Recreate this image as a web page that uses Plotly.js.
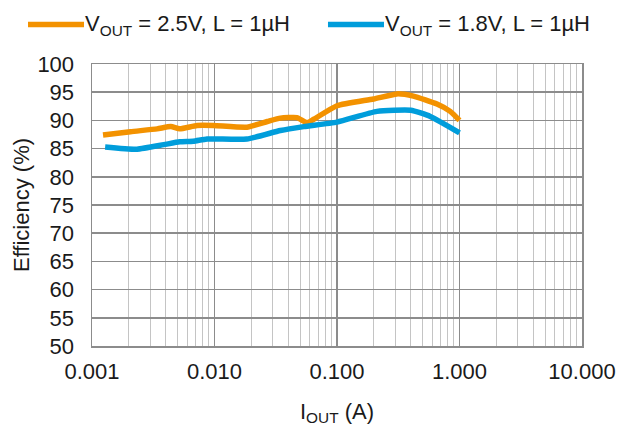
<!DOCTYPE html>
<html>
<head>
<meta charset="utf-8">
<script src="https://cdn.plot.ly/plotly-3.0.1.min.js"></script>
<style>
  html, body { margin: 0; padding: 0; background: #fff; }
  #chart { width: 625px; height: 428px; }
</style>
</head>
<body>
<div id="chart"></div>
<script>
// Output current (A) and efficiency (%) for each output voltage
const iout25 = [0.00123, 0.00206, 0.0034, 0.0044, 0.0052, 0.0072, 0.0098, 0.0184, 0.027, 0.0345, 0.047, 0.057, 0.0646, 0.1, 0.199, 0.309, 0.42, 0.655, 0.84, 1.0];
const eff25  = [87.4, 88.0, 88.5, 88.9, 88.5, 89.1, 89.1, 88.8, 89.8, 90.4, 90.5, 89.6, 90.2, 92.6, 93.8, 94.7, 94.3, 92.9, 91.6, 90.0];

const iout18 = [0.00128, 0.00233, 0.00385, 0.0052, 0.0067, 0.0087, 0.0184, 0.0345, 0.0535, 0.1, 0.212, 0.40, 0.578, 1.0];
const eff18  = [85.3, 84.9, 85.7, 86.2, 86.3, 86.7, 86.7, 88.2, 88.9, 89.7, 91.6, 91.8, 90.7, 87.8];

const seriesNames = ['V<sub>OUT</sub> = 2.5V, L = 1µH', 'V<sub>OUT</sub> = 1.8V, L = 1µH'];
const seriesColors = ['#F39200', '#009DDB'];

const xTickVals = [0.001, 0.01, 0.1, 1, 10];
const xTickText = ['0.001', '0.010', '0.100', '1.000', '10.000'];

// minor grid positions: 2..9 within each decade
const minorVals = [];
for (let d = -3; d < 1; d++) {
  for (let k = 2; k <= 9; k++) minorVals.push(k * Math.pow(10, d));
}

const font = { family: 'Liberation Sans, Arial, sans-serif', size: 22, color: '#1a1a1a' };
const majorGrid = '#8c8c8c';
const minorGrid = '#c4c4c4';

const traces = [
  { x: iout25, y: eff25, name: seriesNames[0], mode: 'lines',
    line: { color: seriesColors[0], width: 5.5, shape: 'spline', smoothing: 0.5 } },
  { x: iout18, y: eff18, name: seriesNames[1], mode: 'lines',
    line: { color: seriesColors[1], width: 5.5, shape: 'spline', smoothing: 0.5 } }
];

// Legend row above the plot: a short coloured bar followed by its label
const legendY = 1.14;
const legendKeys = [[-0.1306, -0.0163], [0.4816, 0.5959]];
const shapes = legendKeys.map((k, i) => ({
  type: 'line', xref: 'paper', yref: 'paper',
  x0: k[0], x1: k[1], y0: legendY, y1: legendY,
  line: { color: seriesColors[i], width: 5.5 }
}));
const annotations = legendKeys.map((k, i) => ({
  xref: 'paper', yref: 'paper', x: k[1] + 0.002, y: legendY,
  xanchor: 'left', yanchor: 'middle', showarrow: false,
  text: seriesNames[i], font: font, borderpad: 0, borderwidth: 0
}));

const layout = {
  width: 625, height: 428,
  margin: { l: 92, r: 43, t: 64, b: 82 },
  paper_bgcolor: '#fff', plot_bgcolor: '#fff',
  font: font,
  showlegend: false,
  shapes: shapes,
  annotations: annotations,
  xaxis: {
    type: 'log', range: [-3, 1],
    tickvals: xTickVals, ticktext: xTickText,
    showgrid: true, gridcolor: majorGrid, gridwidth: 1.5,
    minor: { tickvals: minorVals, showgrid: true, gridcolor: minorGrid, gridwidth: 1, ticklen: 0 },
    showline: true, linecolor: majorGrid, linewidth: 1.5, mirror: true,
    ticks: '', zeroline: false, tickfont: font, ticklabelstandoff: 5,
    title: { text: 'I<sub>OUT</sub> (A)', font: font, standoff: 20 }
  },
  yaxis: {
    range: [50, 100], dtick: 5, tick0: 50,
    showgrid: true, gridcolor: majorGrid, gridwidth: 1.5,
    showline: true, linecolor: majorGrid, linewidth: 1.5, mirror: true,
    ticks: '', zeroline: false, tickfont: font, ticklabelstandoff: 12,
    title: { text: 'Efficiency (%)', font: font, standoff: 1 }
  }
};

Plotly.newPlot('chart', traces, layout, { staticPlot: true, displayModeBar: false });
</script>
</body>
</html>
